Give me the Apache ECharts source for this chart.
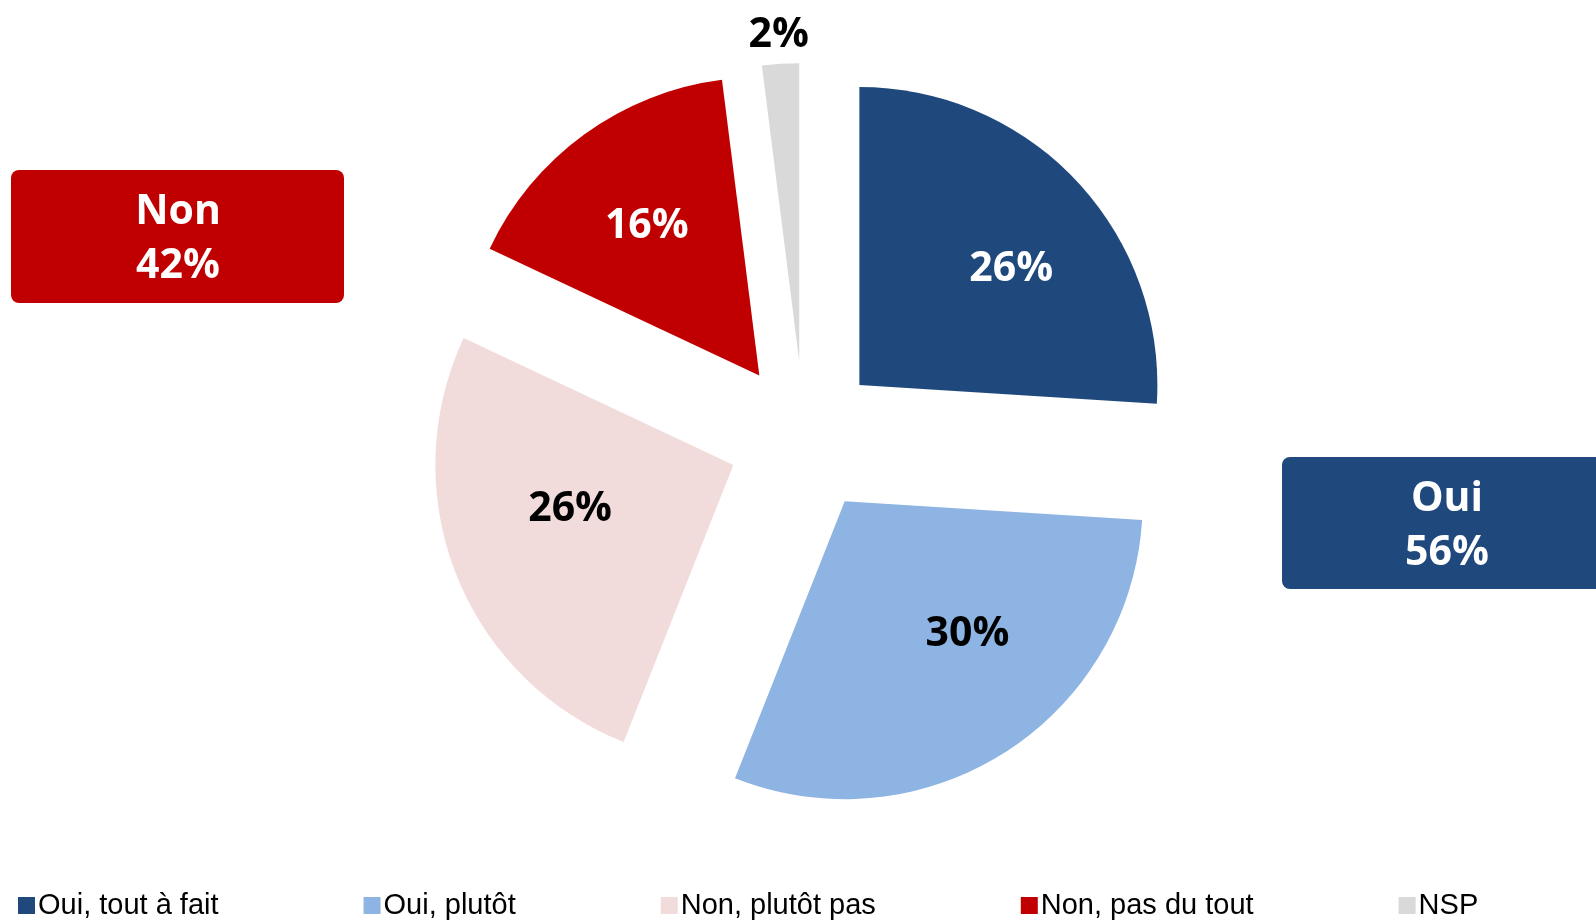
<!DOCTYPE html>
<html>
<head>
<meta charset="utf-8">
<script src="https://cdn.jsdelivr.net/npm/echarts@6/dist/echarts.min.js"></script>
<style>
  html, body { margin: 0; padding: 0; background: #ffffff; }
  #chart { width: 1596px; height: 921px; }
</style>
</head>
<body>
<div id="chart"></div>
<script>
// ---- data ----
const categories = ['Oui, tout à fait', 'Oui, plutôt', 'Non, plutôt pas', 'Non, pas du tout', 'NSP'];
const values = [26, 30, 26, 16, 2];
const colors = ['#1F497D', '#8EB4E3', '#F2DCDB', '#C00000', '#D9D9D9'];
const labelColors = ['#ffffff', '#000000', '#000000', '#ffffff', '#000000'];
const ouiGroup = ['Oui', values[0] + values[1]];
const nonGroup = ['Non', values[2] + values[3]];

// ---- layout / style ----
const CENTER = [804, 437];
const R = 298;
const OFFSET = 76;
const labelNudge = [[16, 12], [23, -24], [10, -24], [-3, 2], [0, 0]];
const labelFont = { fontFamily: 'Open Sans', fontWeight: 'bold', fontSize: 41 };

function nudgePadding(n) {
  const dx = n[0], dy = n[1];
  return [Math.max(2 * dy, 0), Math.max(-2 * dx, 0), Math.max(-2 * dy, 0), Math.max(2 * dx, 0)];
}

const chart = echarts.init(document.getElementById('chart'), null, { renderer: 'canvas' });

function baseSeries(radius, transparent, labelFilter) {
  return {
    type: 'pie',
    center: CENTER,
    radius: radius,
    startAngle: 90,
    clockwise: true,
    selectedMode: 'multiple',
    selectedOffset: OFFSET,
    silent: transparent,
    avoidLabelOverlap: false,
    emphasis: { disabled: true, scale: false },
    labelLine: { show: false },
    data: categories.map((name, i) => ({
      name: name,
      value: values[i],
      selected: true,
      itemStyle: { color: transparent ? 'rgba(0,0,0,0)' : colors[i], borderWidth: 0 },
      select: { itemStyle: { color: transparent ? 'rgba(0,0,0,0)' : colors[i], borderWidth: 0 } },
      label: {
        show: labelFilter(i),
        position: 'inside',
        formatter: '{v|{c}%}',
        rich: {
          v: {
            color: labelColors[i],
            padding: nudgePadding(labelNudge[i]),
            lineHeight: 50,
            ...labelFont
          }
        }
      }
    }))
  };
}

const option = {
  animation: false,
  backgroundColor: '#ffffff',
  legend: {
    data: categories,
    left: 13,
    top: 886,
    orient: 'horizontal',
    icon: 'rect',
    itemWidth: 17,
    itemHeight: 17,
    itemGap: 145,
    selectedMode: false,
    textStyle: { fontFamily: 'Liberation Sans', fontSize: 29, color: '#000000', padding: [0, 0, 0, -2] }
  },
  series: [
    baseSeries(R, false, () => false),
    baseSeries(R * 1.23, true, (i) => i < 4),
    baseSeries(R * 2.17, true, (i) => i === 4)
  ],
  graphic: [
    { type: 'rect', shape: { x: 11, y: 170, width: 333, height: 133, r: 8 }, style: { fill: '#C00000' } },
    { type: 'text', style: { text: nonGroup[0] + '\n' + nonGroup[1] + '%', x: 178, y: 239, align: 'center', verticalAlign: 'middle',
        fill: '#ffffff', font: 'bold 41px "Open Sans"', lineHeight: 54 } },
    { type: 'rect', shape: { x: 1282, y: 457, width: 330, height: 132, r: 8 }, style: { fill: '#1F497D' } },
    { type: 'text', style: { text: ouiGroup[0] + '\n' + ouiGroup[1] + '%', x: 1447, y: 526, align: 'center', verticalAlign: 'middle',
        fill: '#ffffff', font: 'bold 41px "Open Sans"', lineHeight: 54 } }
  ]
};
chart.setOption(option);
</script>
</body>
</html>
